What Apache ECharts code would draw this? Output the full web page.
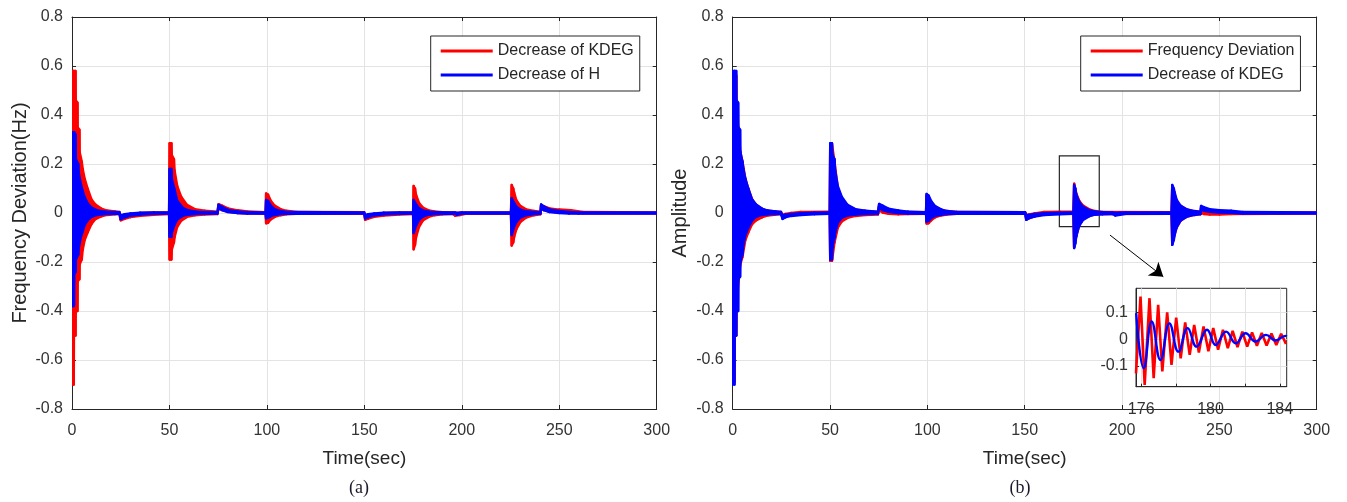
<!DOCTYPE html>
<html>
<head>
<meta charset="utf-8">
<script src="https://cdn.jsdelivr.net/npm/echarts@6/dist/echarts.min.js"></script>
<style>html,body{margin:0;padding:0;background:#fff;}#c{width:1347px;height:502px;}</style>
</head>
<body>
<div id="c"></div>
<script>
// ---- Data ----
// Envelope samples of the dense oscillations: [time (s), upper value, lower value]
const aKdeg = [
[0,0.58,-0.70],[0.9,0.58,-0.70],[1.0,0.58,-0.50],[1.8,0.58,-0.50],[1.9,0.46,-0.40],[2.8,0.45,-0.40],
[2.9,0.35,-0.28],[3.8,0.34,-0.27],[3.9,0.25,-0.21],[5.0,0.21,-0.19],[5.5,0.18,-0.15],[6.5,0.14,-0.11],
[8,0.10,-0.08],[10,0.055,-0.045],[12,0.035,-0.025],[15,0.018,-0.014],[18,0.01,-0.008],[22,0.006,-0.005],
[24.3,0.004,-0.004],[25,-0.012,-0.03],[27,-0.008,-0.024],[30,-0.004,-0.017],[35,0.0,-0.011],[42,0.002,-0.007],
[49.8,0.002,-0.004],[50.1,0.285,-0.19],[51,0.285,-0.19],[51.2,0.237,-0.15],[52.3,0.22,-0.12],[52.6,0.175,-0.10],
[54,0.11,-0.056],[56,0.067,-0.032],[59,0.033,-0.016],[63,0.016,-0.009],[68,0.009,-0.006],[74.6,0.005,-0.004],
[75.2,0.036,0.018],[77,0.03,0.012],[80,0.019,0.005],[85,0.011,0.0],[90,0.006,-0.002],[99.3,0.003,-0.003],
[99.6,0.08,-0.042],[100.6,0.075,-0.04],[102,0.05,-0.026],[104,0.03,-0.016],[107,0.016,-0.009],[110,0.009,-0.005],
[115,0.004,-0.003],[149.9,0.003,-0.003],[150.4,-0.01,-0.028],[152,-0.008,-0.023],[155,-0.004,-0.016],[160,0.0,-0.01],
[168,0.002,-0.006],[175,0.002,-0.004],[175.3,0.11,-0.148],[176,0.1,-0.13],[176.5,0.075,-0.10],[178,0.042,-0.058],
[180,0.022,-0.031],[183,0.011,-0.016],[186,0.006,-0.009],[190,0.003,-0.005],[195.5,0.002,-0.004],[196.5,0.0,-0.011],
[199,0.001,-0.008],[202,0.002,-0.003],[225.2,0.002,-0.003],[225.6,0.114,-0.133],[226.4,0.1,-0.12],[226.8,0.085,-0.1],
[228,0.052,-0.066],[230,0.029,-0.037],[233,0.015,-0.019],[237,0.008,-0.009],[240.3,0.005,-0.005],[240.7,0.033,0.018],
[242,0.028,0.012],[245,0.019,0.006],[250,0.014,0.002],[256,0.011,0.0],[262,0.004,-0.002],[300,0.002,-0.002]
];
const aH = [
[0,0.2,-0.38],[0.4,0.33,-0.38],[1.0,0.33,-0.38],[1.1,0.33,-0.25],[1.9,0.32,-0.24],[2.0,0.22,-0.19],
[3.2,0.2,-0.17],[3.5,0.16,-0.14],[4.5,0.12,-0.1],[5.5,0.09,-0.075],[6.5,0.065,-0.05],[8,0.04,-0.03],
[10,0.022,-0.016],[13,0.011,-0.008],[17,0.005,-0.004],[24.3,0.003,-0.003],[25,-0.01,-0.025],[27,-0.005,-0.018],
[30,-0.002,-0.011],[35,0.001,-0.006],[42,0.002,-0.003],[49.8,0.002,-0.002],[50.1,0.18,-0.097],[51,0.18,-0.097],
[51.2,0.14,-0.08],[52.5,0.1,-0.05],[54,0.05,-0.026],[57,0.02,-0.011],[60,0.01,-0.006],[65,0.004,-0.003],
[74.6,0.003,-0.002],[75.2,0.033,0.02],[77,0.025,0.012],[80,0.013,0.004],[85,0.006,0.0],[90,0.003,-0.002],
[99.3,0.002,-0.002],[99.6,0.053,-0.022],[100.6,0.05,-0.02],[102,0.03,-0.013],[104,0.016,-0.008],[107,0.008,-0.004],
[110,0.004,-0.003],[149.9,0.002,-0.002],[150.4,-0.008,-0.022],[152,-0.005,-0.017],[155,-0.002,-0.01],[160,0.001,-0.005],
[168,0.002,-0.003],[175,0.002,-0.002],[175.3,0.053,-0.082],[176.5,0.036,-0.052],[178,0.02,-0.029],[180,0.011,-0.015],
[183,0.005,-0.007],[186,0.003,-0.004],[196.5,0.002,-0.003],[197.5,0.0,-0.007],[200,0.002,-0.002],[225.2,0.002,-0.002],
[225.6,0.06,-0.09],[226.6,0.045,-0.062],[228,0.026,-0.036],[230,0.014,-0.019],[233,0.007,-0.009],[237,0.004,-0.004],
[240.3,0.003,-0.003],[240.7,0.035,0.02],[242,0.027,0.012],[245,0.015,0.004],[250,0.008,0.0],[255,0.004,-0.002],
[260,0.002,-0.002],[300,0.002,-0.002]
];
const bFreq = [
[0,0.57,-0.69],[0.9,0.57,-0.69],[1.0,0.56,-0.50],[1.8,0.56,-0.50],[1.9,0.45,-0.40],[2.9,0.34,-0.28],
[3.9,0.25,-0.21],[5.0,0.21,-0.18],[6.5,0.14,-0.11],[8,0.10,-0.08],[10,0.055,-0.045],[12,0.034,-0.03],
[15,0.017,-0.018],[18,0.009,-0.01],[24.8,0.004,-0.004],[25.6,-0.008,-0.02],[27,-0.004,-0.015],[30,0.0,-0.008],
[35,0.004,-0.003],[49.8,0.005,-0.002],[50.1,0.28,-0.195],[51,0.28,-0.195],[52.3,0.21,-0.12],[54,0.1,-0.06],
[56,0.06,-0.035],[59,0.03,-0.02],[63,0.014,-0.012],[68,0.008,-0.008],[74.6,0.004,-0.006],[75.2,0.03,0.01],
[77,0.024,0.002],[80,0.014,-0.003],[85,0.008,-0.005],[90,0.004,-0.004],[99.3,0.003,-0.003],[99.6,0.07,-0.043],
[100.6,0.065,-0.042],[102,0.045,-0.03],[104,0.026,-0.018],[107,0.014,-0.01],[110,0.008,-0.006],[115,0.004,-0.003],
[150.2,0.003,-0.003],[150.8,-0.008,-0.026],[155,-0.002,-0.014],[160,0.004,-0.004],[168,0.005,-0.001],[175,0.005,-0.002],
[175.4,0.12,-0.14],[176.5,0.08,-0.095],[178,0.05,-0.05],[180,0.03,-0.025],[183,0.016,-0.012],[186,0.008,-0.006],
[190,0.004,-0.004],[225.4,0.003,-0.003],[225.8,0.11,-0.125],[228,0.05,-0.06],[230,0.03,-0.032],[233,0.015,-0.016],
[237,0.007,-0.008],[240.3,0.004,-0.005],[240.6,0.02,0.0],[242,0.014,-0.004],[245,0.008,-0.006],[250,0.004,-0.006],
[256,0.002,-0.004],[300,0.002,-0.002]
];
const bKdeg = [
[0,0.58,-0.70],[0.9,0.58,-0.70],[1.0,0.58,-0.50],[1.8,0.58,-0.50],[1.9,0.46,-0.40],[2.8,0.45,-0.40],
[2.9,0.35,-0.27],[3.8,0.34,-0.26],[3.9,0.25,-0.2],[5.0,0.21,-0.17],[5.5,0.18,-0.13],[6.5,0.14,-0.09],
[8,0.10,-0.06],[10,0.055,-0.03],[12,0.035,-0.016],[15,0.018,-0.008],[18,0.01,-0.005],[22,0.006,-0.004],
[24.8,0.004,-0.004],[25.6,-0.01,-0.024],[27,-0.007,-0.018],[30,-0.004,-0.012],[35,-0.001,-0.008],[42,0.001,-0.005],
[49.8,0.002,-0.003],[50.1,0.285,-0.19],[51,0.285,-0.19],[51.2,0.237,-0.14],[52.3,0.22,-0.1],[52.6,0.175,-0.08],
[54,0.11,-0.04],[56,0.067,-0.02],[59,0.033,-0.01],[63,0.016,-0.006],[68,0.009,-0.004],[74.6,0.005,-0.003],
[75.2,0.037,0.02],[77,0.03,0.012],[80,0.018,0.005],[85,0.01,0.0],[90,0.005,-0.002],[99.3,0.003,-0.003],
[99.6,0.078,-0.035],[100.6,0.072,-0.032],[102,0.048,-0.02],[104,0.028,-0.012],[107,0.015,-0.007],[110,0.008,-0.004],
[115,0.004,-0.003],[150.2,0.003,-0.003],[150.8,-0.01,-0.028],[152,-0.008,-0.022],[155,-0.004,-0.015],[160,-0.001,-0.008],
[168,0.001,-0.005],[175,0.002,-0.003],[175.4,0.114,-0.143],[176,0.1,-0.125],[176.5,0.075,-0.095],[178,0.045,-0.052],
[180,0.025,-0.028],[183,0.012,-0.014],[186,0.006,-0.007],[190,0.003,-0.005],[195,0.002,-0.004],[196.5,0.0,-0.01],
[199,0.001,-0.007],[202,0.002,-0.003],[225.4,0.002,-0.003],[225.8,0.114,-0.13],[226.6,0.1,-0.11],[227,0.085,-0.09],
[228,0.055,-0.06],[230,0.03,-0.032],[233,0.016,-0.016],[237,0.008,-0.008],[240.3,0.005,-0.004],[240.6,0.029,0.014],
[242,0.024,0.01],[245,0.016,0.005],[250,0.011,0.002],[256,0.009,0.001],[262,0.004,-0.002],[300,0.002,-0.002]
];
// Inset (zoom of 176-184 s): [time, value]
const insetFreq = [
[175.7,-0.128],[175.96,0.159],[176.2,-0.171],[176.48,0.153],[176.72,-0.146],[176.98,0.128],[177.22,-0.121],
[177.5,0.1],[177.75,-0.096],[178.02,0.08],[178.28,-0.072],[178.54,0.062],[178.8,-0.059],[179.06,0.053],
[179.33,-0.05],[179.6,0.047],[179.88,-0.045],[180.16,0.041],[180.44,-0.04],[180.72,0.035],[181.0,-0.034],
[181.28,0.031],[181.56,-0.03],[181.84,0.028],[182.12,-0.028],[182.4,0.025],[182.68,-0.025],[182.96,0.023],
[183.24,-0.024],[183.52,0.021],[183.8,-0.022],[184.08,0.02],[184.36,-0.018]
];
const insetKdeg = [
[175.71,0.097],[176.15,-0.109],[176.61,0.066],[177.11,-0.078],[177.63,0.059],[178.15,-0.047],[178.68,0.041],
[179.2,-0.028],[179.8,0.035],[180.3,-0.022],[180.9,0.028],[181.46,-0.016],[182.03,0.022],[182.6,-0.009],
[183.2,0.016],[183.76,-0.005],[184.33,0.012],[184.4,0.01]
];
// Tick values
const mainXTicks = {min: 0, max: 300, interval: 50};
const mainYTicks = {min: -0.8, max: 0.8, interval: 0.2};
const insetXLabels = [176, 180, 184];
const insetXTicks = [176, 178, 180, 182, 184];
const insetYLabels = [-0.1, 0, 0.1];
// Zoom box and arrow annotation (data coords of panel b)
const zoomBox = [[167.8, 0.233], [188.3, -0.056]];
const zoomArrow = [[193.8, -0.09], [221.2, -0.26]];

// ---- Styling ----
const FONT = 'Liberation Sans, Arial, Helvetica, sans-serif';
const AX = '#262626', LBL = '#333333', GRID = '#e3e3e3';
const RED = '#ff0000', BLUE = '#0000ff';

function bandSeries(name, arr, color, idx) {
  return {
    type: 'custom', name: name, xAxisIndex: idx, yAxisIndex: idx, clip: true,
    data: arr, encode: {x: 0, y: [1, 2]},
    renderItem: function (params, api) {
      const i = params.dataIndex;
      if (i >= arr.length - 1) return null;
      const a = arr[i], b = arr[i + 1];
      const pts = [api.coord([a[0], a[1]]), api.coord([b[0], b[1]]), api.coord([b[0], b[2]]), api.coord([a[0], a[2]])];
      return {type: 'polygon', shape: {points: pts},
        style: {fill: color, stroke: color, lineWidth: 2.4, lineJoin: 'round'}};
    }
  };
}
function yFmt(v) { const r = Math.round(v * 10) / 10; return r === 0 ? '0' : r.toFixed(1); }

function mainAxes(gi, yName) {
  const base = {gridIndex: gi, type: 'value'};
  const xs = [
    Object.assign({}, base, mainXTicks, {position: 'bottom',
      name: 'Time(sec)', nameLocation: 'middle', nameGap: 40,
      nameTextStyle: {fontSize: 19, color: AX, fontFamily: FONT},
      axisLine: {onZero: false, lineStyle: {color: AX, width: 1}},
      axisTick: {inside: true, length: 4, lineStyle: {color: AX}},
      axisLabel: {fontSize: 16, color: LBL, fontFamily: FONT, margin: 14},
      splitLine: {show: true, lineStyle: {color: GRID, width: 1}}}),
    Object.assign({}, base, mainXTicks, {position: 'top',
      axisLine: {onZero: false, lineStyle: {color: AX, width: 1}},
      axisTick: {inside: true, length: 4, lineStyle: {color: AX}},
      axisLabel: {show: false}, splitLine: {show: false}})
  ];
  const ys = [
    Object.assign({}, base, mainYTicks, {position: 'left',
      name: yName, nameLocation: 'middle', nameGap: 42,
      nameTextStyle: {fontSize: 20, color: AX, fontFamily: FONT},
      axisLine: {show: true, onZero: false, lineStyle: {color: AX, width: 1}},
      axisTick: {show: true, inside: true, length: 4, lineStyle: {color: AX}},
      axisLabel: {fontSize: 16, color: LBL, fontFamily: FONT, margin: 9, formatter: yFmt},
      splitLine: {show: true, lineStyle: {color: GRID, width: 1}}}),
    Object.assign({}, base, mainYTicks, {position: 'right',
      axisLine: {show: true, onZero: false, lineStyle: {color: AX, width: 1}},
      axisTick: {show: true, inside: true, length: 4, lineStyle: {color: AX}},
      axisLabel: {show: false}, splitLine: {show: false}})
  ];
  return {xs: xs, ys: ys};
}
const A = mainAxes(0, 'Frequency Deviation(Hz)');
const B = mainAxes(1, 'Amplitude');

const insetX = {gridIndex: 2, type: 'value', min: 175.7, max: 184.4, position: 'bottom', z: 11,
  axisLine: {onZero: false, lineStyle: {color: AX}},
  axisTick: {inside: true, length: 3, customValues: insetXTicks, lineStyle: {color: AX}},
  axisLabel: {fontSize: 16, color: LBL, fontFamily: FONT, margin: 15, customValues: insetXLabels},
  splitLine: {show: true, lineStyle: {color: GRID}}};
const insetY = {gridIndex: 2, type: 'value', min: -0.178, max: 0.19, position: 'left', z: 11,
  axisLine: {show: true, onZero: false, lineStyle: {color: AX}},
  axisTick: {show: true, inside: true, length: 3, customValues: insetYLabels, lineStyle: {color: AX}},
  axisLabel: {fontSize: 16, color: LBL, fontFamily: FONT, margin: 8, customValues: insetYLabels, formatter: yFmt},
  splitLine: {show: true, lineStyle: {color: GRID}}};

const option = {
  animation: false,
  backgroundColor: '#ffffff',
  grid: [
    {left: 72, right: 690.3, top: 17, bottom: 93, outerBoundsMode: 'none', containLabel: false},
    {left: 732.7, right: 30.3, top: 17, bottom: 93, outerBoundsMode: 'none', containLabel: false},
    {left: 1136, right: 60.3, top: 288.3, bottom: 115.3, outerBoundsMode: 'none', containLabel: false,
     show: true, backgroundColor: '#ffffff', borderColor: AX, borderWidth: 1, z: 10}
  ],
  xAxis: [A.xs[0], A.xs[1], B.xs[0], B.xs[1], insetX],
  yAxis: [A.ys[0], A.ys[1], B.ys[0], B.ys[1], insetY],
  legend: [
    {left: 430.7, top: 36, orient: 'vertical', selectedMode: false, icon: 'rect',
     itemWidth: 52, itemHeight: 3, itemGap: 8, padding: [7, 6, 8, 10],
     backgroundColor: '#ffffff', borderColor: AX, borderWidth: 1, borderRadius: 0,
     textStyle: {fontSize: 16, color: AX, fontFamily: FONT},
     data: [{name: 'Decrease of KDEG', itemStyle: {color: RED}}, {name: 'Decrease of H', itemStyle: {color: BLUE}}]},
    {left: 1080.7, top: 36, orient: 'vertical', selectedMode: false, icon: 'rect',
     itemWidth: 52, itemHeight: 3, itemGap: 8, padding: [7, 6, 8, 10],
     backgroundColor: '#ffffff', borderColor: AX, borderWidth: 1, borderRadius: 0,
     textStyle: {fontSize: 16, color: AX, fontFamily: FONT},
     data: [{name: 'Frequency Deviation', itemStyle: {color: RED}}, {name: 'Decrease of KDEG', itemStyle: {color: BLUE}}]}
  ],
  graphic: [
    {type: 'text', x: 359, y: 488, style: {text: '(a)', fontSize: 18, fontFamily: 'Liberation Serif, Times New Roman, serif', fill: '#1a1a2a', align: 'center', verticalAlign: 'middle'}},
    {type: 'text', x: 1020, y: 488, style: {text: '(b)', fontSize: 18, fontFamily: 'Liberation Serif, Times New Roman, serif', fill: '#1a1a2a', align: 'center', verticalAlign: 'middle'}}
  ],
  series: [
    bandSeries('Decrease of KDEG', aKdeg, RED, 0),
    bandSeries('Decrease of H', aH, BLUE, 0),
    bandSeries('Frequency Deviation', bFreq, RED, 2),
    bandSeries('Decrease of KDEG', bKdeg, BLUE, 2),
    {type: 'line', name: 'annot', xAxisIndex: 2, yAxisIndex: 2, data: [], silent: true, z: 5,
     markArea: {silent: true, itemStyle: {color: 'rgba(0,0,0,0)', borderColor: AX, borderWidth: 1.2},
       data: [[{coord: zoomBox[0]}, {coord: zoomBox[1]}]]},
     markLine: {silent: true, symbol: ['none', 'arrow'], symbolSize: 13, label: {show: false},
       lineStyle: {color: '#000000', width: 1, type: 'solid'},
       data: [[{coord: zoomArrow[0]}, {coord: zoomArrow[1]}]]}},
    {type: 'line', name: 'inset freq', xAxisIndex: 4, yAxisIndex: 4, data: insetFreq, z: 12,
     showSymbol: false, symbol: 'none', lineStyle: {color: RED, width: 2.6}, clip: true},
    {type: 'line', name: 'inset kdeg', xAxisIndex: 4, yAxisIndex: 4, data: insetKdeg, z: 13,
     showSymbol: false, symbol: 'none', smooth: 0.45, lineStyle: {color: BLUE, width: 2.4}, clip: true}
  ]
};
const chart = echarts.init(document.getElementById('c'), null, {renderer: 'canvas'});
chart.setOption(option);
</script>
</body>
</html>
